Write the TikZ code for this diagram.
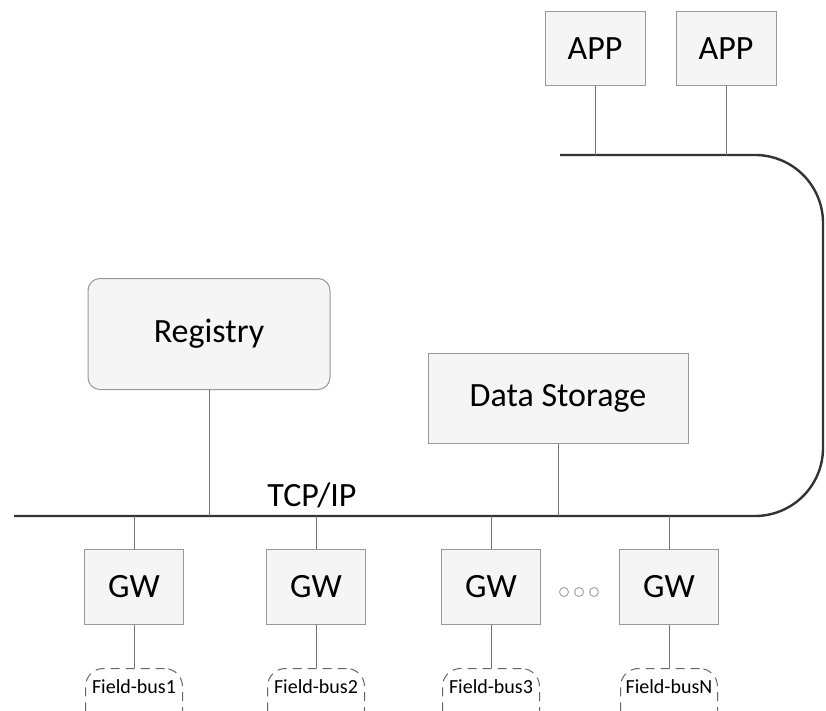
\documentclass[tikz,border=0pt]{standalone}
\usepackage{fontspec}
\setmainfont{Carlito}
\begin{document}
\begin{tikzpicture}[x=1pt,y=-1pt,
    box/.style={draw=black!40,fill=black!4,line width=1pt,inner sep=0pt,
        minimum width=99pt,minimum height=75pt,font=\fontsize{34}{40}\selectfont},
    bus/.style={draw=black!80,line width=2.4pt},
    link/.style={draw=black!55,line width=1pt},
    fieldbus/.style={draw=black!60,dash pattern=on 9pt off 6pt,rounded corners=18pt,
        line width=1pt,minimum width=97pt,inner sep=0pt,text height=25pt,text depth=35pt,
        font=\fontsize{20}{24}\selectfont}]
    \useasboundingbox (0,0) rectangle (826,711);
    % Applications on top and the two servers
    \node[box,minimum width=100pt,minimum height=74pt] (app1) at (595,49) {APP};
    \node[box,minimum width=100pt,minimum height=74pt] (app2) at (726,49) {APP};
    \node[box,rounded corners=12pt,minimum width=242pt,minimum height=111pt] (registry) at (209,334) {Registry};
    \node[box,minimum width=260pt,minimum height=90pt] (storage) at (558,398) {Data Storage};
    % The network bus, wrapping round on the right
    \coordinate (top) at (0,155);
    \coordinate (tcp) at (0,516);
    \draw[bus,rounded corners=68pt] (560,155) -- (823,155) -- (823,516) -- (14,516);
    \node[font=\fontsize{34}{40}\selectfont] (tcplabel) at (312,495) {TCP/IP};
    \foreach \n in {app1,app2}
        \draw[link] (\n.south) -- (\n.south |- top);
    \draw[link] (registry.south) -- (registry.south |- tcp);
    \draw[link] (storage.south) -- (storage.south |- tcp);
    % Gateways with their field buses
    \foreach \x/\i/\name in {134/1/1, 316/2/2, 491/3/3, 669/4/N} {
        \node[box] (gw\i) at (\x,587) {GW};
        \node[fieldbus,anchor=north] (fb\i) at (\x,668) {Field-bus\name};
        \draw[link] (gw\i.north) -- (gw\i.north |- tcp);
        \draw[link] (gw\i.south) -- (fb\i.north);
    }
    \foreach \x in {564,579,594}
        \draw[black!35,line width=1pt] (\x,592) circle (4.5pt);
\end{tikzpicture}
\end{document}
